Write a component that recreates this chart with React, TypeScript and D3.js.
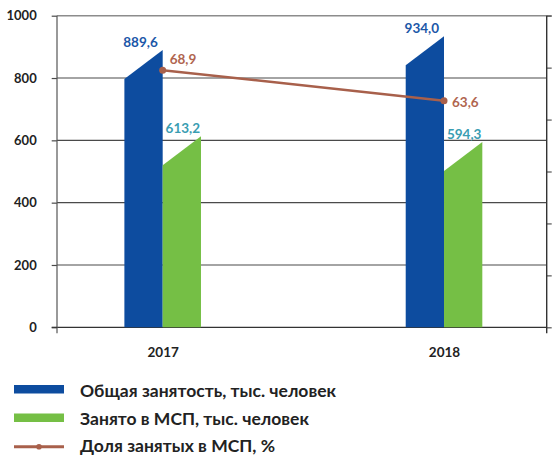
import { useEffect, useRef } from "react";
import * as d3 from "d3";

const years = ["2017", "2018"];
const totalEmployment = [889.6, 934.0];
const smeEmployment = [613.2, 594.3];
const smeShare = [68.9, 63.6];
const leftTicks = [0, 200, 400, 600, 800, 1000];
const legendLabels = [
  "Общая занятость, тыс. человек",
  "Занято в МСП, тыс. человек",
  "Доля занятых в МСП, %",
];

const fmt = (v: number) => v.toFixed(1).replace(".", ",");

function App() {
  const ref = useRef<SVGSVGElement>(null);

  useEffect(() => {
    const svg = d3.select(ref.current);
    svg.selectAll("*").remove();

    const W = 560;
    const margin = { top: 15.7, right: 13.3, bottom: 127.7, left: 57 };
    const H = 455;
    const plotBottom = H - margin.bottom;
    const plotRight = W - margin.right;
    const font = "Lato, 'Open Sans', sans-serif";

    const x = d3.scalePoint<string>()
      .domain(years)
      .range([margin.left + 3, plotRight])
      .padding(0.365);
    const y = d3.scaleLinear().domain([0, 1000]).range([plotBottom, margin.top]);
    // right axis has no labels, domain fitted to the picture
    const yR = d3.scaleLinear().domain([24.5, 78.3]).range([plotBottom, margin.top]);

    const barW = 38.3;
    const slant = 29;

    // gridlines
    svg.append("g")
      .selectAll("line")
      .data(leftTicks)
      .enter().append("line")
      .attr("x1", margin.left)
      .attr("x2", (d) => (d === 1000 ? plotRight + 5 : plotRight))
      .attr("y1", (d) => y(d))
      .attr("y2", (d) => y(d))
      .attr("stroke", (d) => (d === 1000 ? "#8c8c8c" : d === 0 ? "#333" : "#4a4a4a"))
      .attr("stroke-width", (d) => (d === 1000 ? 1.5 : 1.2));

    // left axis
    const gl = svg.append("g")
      .attr("transform", `translate(${margin.left},0)`)
      .call(d3.axisLeft(y).tickValues(leftTicks).tickSize(5.3).tickPadding(15).tickFormat(d3.format("d")));
    gl.select(".domain").remove();
    gl.selectAll("line").attr("stroke", "#4a4a4a").attr("stroke-width", 1.2);
    gl.selectAll("text")
      .attr("font-family", font)
      .attr("font-weight", 700)
      .attr("font-size", 13)
      .attr("fill", "#222");
    svg.append("line")
      .attr("x1", margin.left).attr("x2", margin.left)
      .attr("y1", margin.top).attr("y2", plotBottom + 6)
      .attr("stroke", "#555").attr("stroke-width", 1.2);

    // right axis
    const rTicks = d3.range(7).map((i) => 24.5 + (i * (78.3 - 24.5)) / 6);
    const gr = svg.append("g")
      .attr("transform", `translate(${plotRight},0)`)
      .call(d3.axisRight(yR).tickValues(rTicks).tickSize(5).tickFormat(() => ""));
    gr.select(".domain").remove();
    gr.selectAll("line").attr("stroke", "#555").attr("stroke-width", 1.2);
    svg.append("line")
      .attr("x1", plotRight).attr("x2", plotRight)
      .attr("y1", margin.top).attr("y2", plotBottom + 6)
      .attr("stroke", "#333").attr("stroke-width", 1.4);

    // bottom ticks / year labels
    const gb = svg.append("g")
      .attr("transform", `translate(0,${plotBottom})`)
      .call(d3.axisBottom(x).tickSize(0).tickPadding(20));
    gb.select(".domain").remove();
    gb.selectAll("text")
      .attr("font-family", font)
      .attr("font-weight", 700)
      .attr("font-size", 13.5)
      .attr("fill", "#222");
    svg.append("line")
      .attr("x1", margin.left - 5.3).attr("x2", margin.left)
      .attr("y1", plotBottom).attr("y2", plotBottom)
      .attr("stroke", "#333").attr("stroke-width", 1.2);

    // slanted-top bar
    const barPath = (x0: number, v: number) => {
      const top = y(v);
      return `M${x0},${plotBottom}V${top + slant}L${x0 + barW},${top}V${plotBottom}Z`;
    };

    const groups = years.map((yr, i) => ({ yr, total: totalEmployment[i], sme: smeEmployment[i], share: smeShare[i] }));

    svg.selectAll(".bar-total")
      .data(groups)
      .enter().append("path")
      .attr("class", "bar-total")
      .attr("d", (d) => barPath((x(d.yr) as number) - barW, d.total))
      .attr("fill", "#0d4c9f");

    svg.selectAll(".bar-sme")
      .data(groups)
      .enter().append("path")
      .attr("class", "bar-sme")
      .attr("d", (d) => barPath(x(d.yr) as number, d.sme))
      .attr("fill", "#75bf45");

    svg.selectAll(".lbl-total")
      .data(groups)
      .enter().append("text")
      .attr("x", (d) => (x(d.yr) as number) - barW / 2 - 3)
      .attr("y", (d) => y(d.total) - 3)
      .attr("text-anchor", "middle")
      .attr("font-family", font)
      .attr("font-weight", 700)
      .attr("font-size", 13.5)
      .attr("fill", "#1b57a8")
      .text((d) => fmt(d.total));

    svg.selectAll(".lbl-sme")
      .data(groups)
      .enter().append("text")
      .attr("x", (d) => (x(d.yr) as number) + barW / 2 + 1)
      .attr("y", (d) => y(d.sme) - 3)
      .attr("text-anchor", "middle")
      .attr("font-family", font)
      .attr("font-weight", 700)
      .attr("font-size", 13.5)
      .attr("fill", "#3a9db2")
      .text((d) => fmt(d.sme));

    // share line
    const line = d3.line<typeof groups[number]>()
      .x((d) => x(d.yr) as number)
      .y((d) => yR(d.share));
    svg.append("path")
      .datum(groups)
      .attr("d", line)
      .attr("fill", "none")
      .attr("stroke", "#a8604b")
      .attr("stroke-width", 2.5);
    svg.selectAll(".dot")
      .data(groups)
      .enter().append("circle")
      .attr("cx", (d) => x(d.yr) as number)
      .attr("cy", (d) => yR(d.share))
      .attr("r", 3.5)
      .attr("fill", "#a8604b");

    const shareOffsets = [[7, -6], [8, 6]];
    svg.selectAll(".lbl-share")
      .data(groups)
      .enter().append("text")
      .attr("x", (d, i) => (x(d.yr) as number) + shareOffsets[i][0])
      .attr("y", (d, i) => yR(d.share) + shareOffsets[i][1])
      .attr("font-family", font)
      .attr("font-weight", 700)
      .attr("font-size", 13.5)
      .attr("fill", "#b0654f")
      .text((d) => fmt(d.share));

    // legend
    const lg = svg.append("g").attr("transform", "translate(14,0)");
    const rows = [389, 417.5, 446.7];
    const baselines = [397, 425, 452];
    lg.append("rect").attr("x", 0).attr("y", rows[0] - 4).attr("width", 50).attr("height", 8.5).attr("fill", "#0d4c9f");
    lg.append("rect").attr("x", 0).attr("y", rows[1] - 4).attr("width", 50).attr("height", 8.5).attr("fill", "#75bf45");
    lg.append("line").attr("x1", 0).attr("x2", 50).attr("y1", rows[2]).attr("y2", rows[2])
      .attr("stroke", "#a8604b").attr("stroke-width", 3);
    lg.append("circle").attr("cx", 25).attr("cy", rows[2]).attr("r", 2.8).attr("fill", "#a8604b");
    lg.selectAll(".leg-text")
      .data(legendLabels)
      .enter().append("text")
      .attr("x", 66)
      .attr("y", (d, i) => baselines[i])
      .attr("font-family", font)
      .attr("font-weight", 700)
      .attr("font-size", 17.5)
      .attr("fill", "#222")
      .text((d) => d);
  }, []);

  return (
    <svg
      ref={ref}
      width={560}
      height={455}
      style={{ position: "absolute", left: 0, top: 0, background: "#fff" }}
    />
  );
}

export default App;
